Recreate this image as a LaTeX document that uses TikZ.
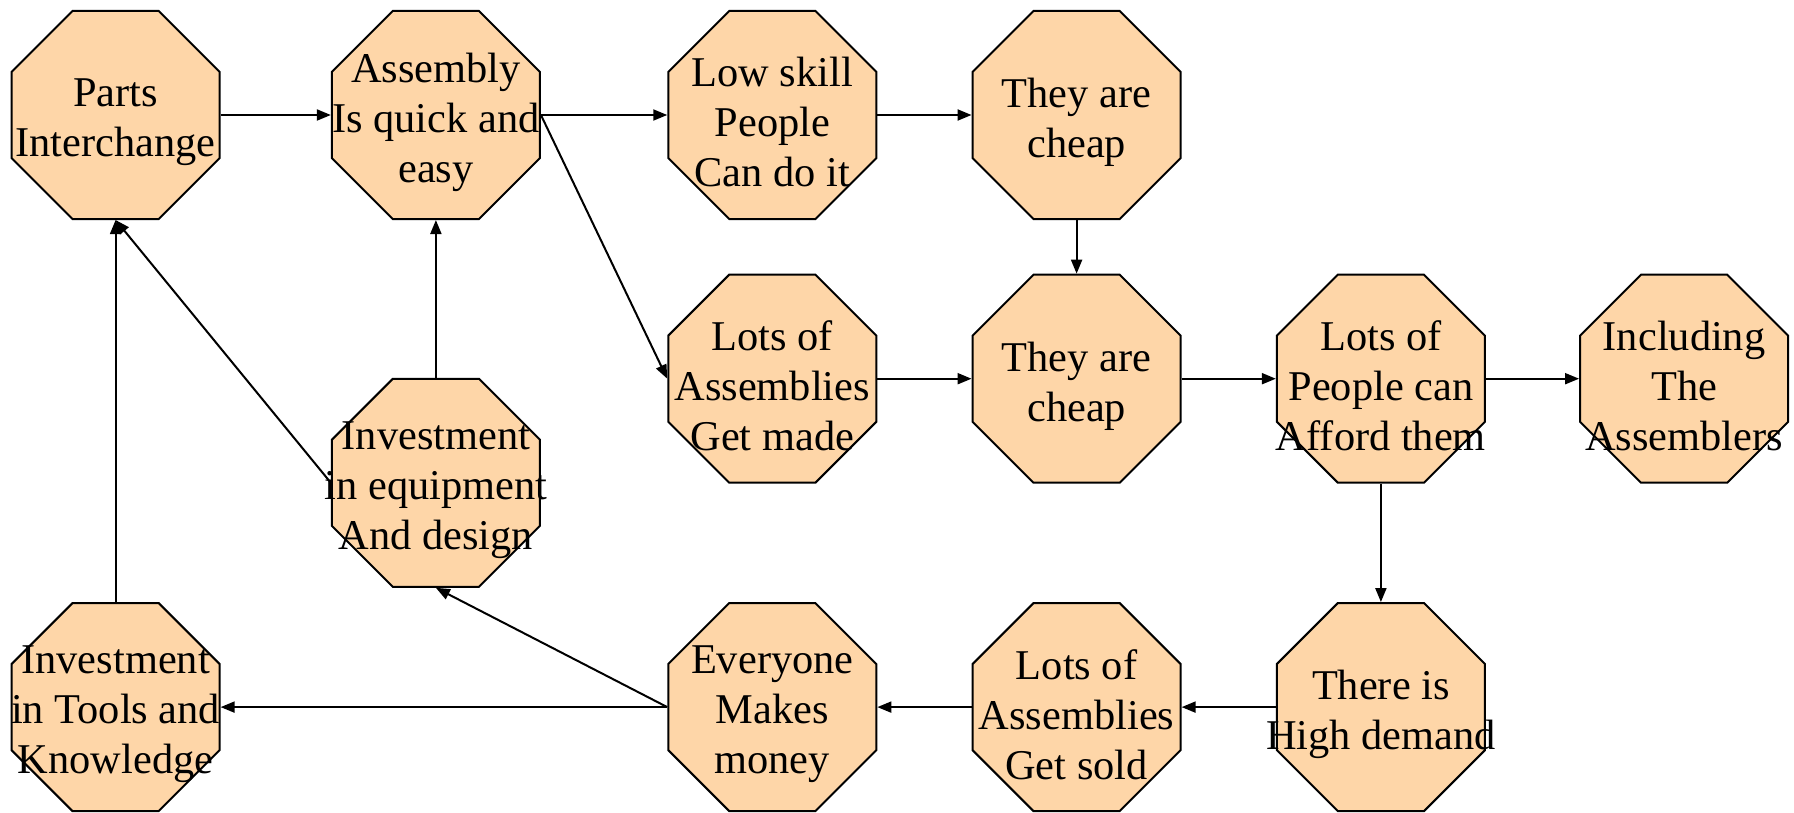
\documentclass[tikz,border=0pt]{standalone}
\usepackage{fontspec}
\setmainfont{Liberation Serif}
\usetikzlibrary{shapes.geometric,arrows.meta}
\definecolor{peach}{RGB}{254,214,168}
\tikzset{
  oct/.style={regular polygon, regular polygon sides=8, draw=black, fill=peach,
    line width=1pt, minimum size=112.6pt, inner sep=0pt},
  txt/.style={align=center, font=\fontsize{21.2}{25}\selectfont, inner sep=0pt},
  conn/.style={line width=1pt, -{Triangle[length=7pt,width=5.5pt]}}
}
\begin{document}
\begin{tikzpicture}[x=0.5pt,y=-0.5pt]
\useasboundingbox (0,0) rectangle (1794,813);
% nodes
\node[oct] (parts) at (115.6,115) {};
\node[oct] (assembly) at (435.9,115) {};
\node[oct] (lowskill) at (772.3,115) {};
\node[oct] (cheapA) at (1076.6,115) {};
\node[oct] (made) at (772.3,378.7) {};
\node[oct] (cheapB) at (1076.6,378.7) {};
\node[oct] (afford) at (1380.9,378.7) {};
\node[oct] (incl) at (1684.1,378.7) {};
\node[oct] (equip) at (435.9,482.8) {};
\node[oct] (tools) at (115.6,707.1) {};
\node[oct] (money) at (772.3,707.1) {};
\node[oct] (sold) at (1076.6,707.1) {};
\node[oct] (demand) at (1380.9,707.1) {};
% texts
\node[txt] at ([yshift=-3.7pt]parts.center) {Parts\\Interchange};
\node[txt] at ([yshift=-3.7pt]assembly.center) {Assembly\\Is quick and\\easy};
\node[txt] at ([yshift=-3.7pt]lowskill.center) {Low skill\\People\\Can do it};
\node[txt] at ([yshift=-3.7pt]cheapA.center) {They are\\cheap};
\node[txt] at ([yshift=-3.7pt]made.center) {Lots of\\Assemblies\\Get made};
\node[txt] at ([yshift=-3.7pt]cheapB.center) {They are\\cheap};
\node[txt] at ([yshift=-3.7pt]afford.center) {Lots of\\People can\\Afford them};
\node[txt] at ([yshift=-3.7pt]incl.center) {Including\\The\\Assemblers};
\node[txt] at ([yshift=-3.7pt]equip.center) {Investment\\in equipment\\And design};
\node[txt] at ([yshift=-3.7pt]tools.center) {Investment\\in Tools and\\Knowledge};
\node[txt] at ([yshift=-3.7pt]money.center) {Everyone\\Makes\\money};
\node[txt] at ([yshift=-3.7pt]sold.center) {Lots of\\Assemblies\\Get sold};
\node[txt] at ([yshift=-3.7pt]demand.center) {There is\\High demand};
% connectors
\draw[conn] (parts) -- (assembly);
\draw[conn] (assembly) -- (lowskill);
\draw[conn] (assembly.east) -- (made.west);
\draw[conn] (lowskill) -- (cheapA);
\draw[conn] (cheapA) -- (cheapB);
\draw[conn] (made) -- (cheapB);
\draw[conn] (cheapB) -- (afford);
\draw[conn] (afford) -- (incl);
\draw[conn] (afford) -- (demand);
\draw[conn] (demand) -- (sold);
\draw[conn] (sold) -- (money);
\draw[conn] (money) -- (tools);
\draw[conn] (money.west) -- (equip.south);
\draw[conn] (equip) -- (assembly);
\draw[conn] (equip.west) -- (parts.south);
\draw[conn] (tools) -- (parts);
\end{tikzpicture}
\end{document}
